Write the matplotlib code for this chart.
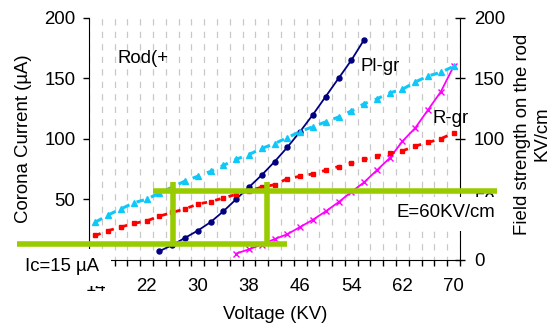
import numpy as np
import matplotlib
matplotlib.use('Agg')
import matplotlib.pyplot as plt
from matplotlib.patches import Rectangle

plt.rcParams['font.family'] = ['Liberation Sans', 'DejaVu Sans']
plt.rcParams['font.size'] = 13.4

# voltage categories (KV)
volts = [14, 16, 18, 20, 22, 24, 26, 28, 30, 32, 34, 36, 38, 40, 42,
         44, 46, 48, 50, 52, 54, 56, 58, 60, 62, 64, 66, 68, 70]
xlabels = [14, 22, 30, 38, 46, 54, 62, 70]

# field strength on the rod (KV/cm)
field_a = [31, 37, 42, 47, 50, 55, 60, 65, 69, 73, 78, 83, 87, 92, 96,
           101, 106, 110, 114, 118, 123, 129, 133, 138, 141, 147, 152, 155, 160]
field_b = [20, 24, 27, 30, 32, 36, 39, 42, 46, 48, 51, 54, 57, 60, 62,
           67, 69, 71, 74, 77, 80, 83, 86, 88, 90, 94, 97, 100, 105]

# corona current (uA)
volts_pl = volts[5:22]
cur_pl = [7, 12, 18, 24, 31, 40, 50, 60, 70, 81, 93, 106, 120, 135, 150, 165, 182]
volts_r = volts[11:]
cur_r = [5, 8.5, 12.5, 17, 21, 27, 33, 40, 47.5, 56, 64, 74, 84, 98, 109, 124, 139, 160]

# guide lines
ic_level = 12.9
ic_span = [1.75, 43.9]
e_level = 57.1
e_span = [23.05, 76.8]
v_marks = [26.07, 40.76]
v_top = 64.1

green = '#99CC00'
gridc = '#C8C8C8'

fig = plt.figure(figsize=(5.6, 3.29), dpi=100)
ax = fig.add_axes([0.159, 0.2109, 0.6625, 0.7344])
ax2 = ax.twinx()

ax.plot(volts_pl, cur_pl, color='#000080', lw=1.3, marker='o', ms=3.6, zorder=3)
ax.plot(volts_r, cur_r, color='#FF00FF', lw=1.3, marker='x', ms=4.5, mew=1, zorder=3)
ax2.plot(volts, field_a, color='#10C8F8', lw=2.2, ls=(0, (2.5, 2.5)), marker='^', ms=4.5)
ax2.plot(volts, field_b, color='#FF0000', lw=2, ls=(0, (2, 3)), marker='s', ms=3)

for a in (ax, ax2):
    a.set_xlim(13, 71)
    a.set_ylim(0, 200)
    a.set_yticks([0, 50, 100, 150, 200])
    a.spines['top'].set_visible(False)

ax.spines['right'].set_visible(False)
ax2.spines['left'].set_visible(False)
ax2.spines['bottom'].set_visible(False)

ax.set_xticks(xlabels)
ax.set_xticks(np.arange(13, 72, 2), minor=True)
ax.tick_params(axis='x', which='major', length=0, pad=13)
ax.tick_params(axis='x', which='minor', length=4, width=1, direction='out')
ax.tick_params(axis='y', length=4.3, width=1, direction='out', pad=5.5)
ax2.tick_params(axis='y', length=7, width=1, direction='inout', pad=6.5)

ax.grid(True, axis='y', which='major', color=gridc, lw=0.9, ls=(0, (7, 4)))
ax.grid(True, axis='x', which='minor', color=gridc, lw=0.9, ls=(2, (5, 5)))
for t in ax.yaxis.get_major_ticks():
    if t.get_loc() in (0, 200):
        t.gridline.set_visible(False)

ax.set_xlabel('Voltage (KV)')
ax.xaxis.set_label_coords(0.501, -0.19)
ax.set_ylabel('Corona Current (µA)')
ax.yaxis.label.set(va='center', ha='center')
ax.yaxis.set_label_coords(-0.178, 0.501)
ax2.set_ylabel('Field strength on the rod\nKV/cm', multialignment='center')
ax2.yaxis.label.set(va='center', ha='center')
ax2.yaxis.set_label_coords(1.194, 0.52)

# green guide lines
ax2.plot(ic_span, [ic_level, ic_level], color=green, lw=4, solid_capstyle='butt', clip_on=False, zorder=6)
ax2.plot(e_span, [e_level, e_level], color=green, lw=4, solid_capstyle='butt', clip_on=False, zorder=6)
for v in v_marks:
    ax2.plot([v, v], [ic_level, v_top], color=green, lw=4, solid_capstyle='butt', clip_on=False, zorder=6)

# labels
ax2.text(17.4, 166.7, 'Rod(+', va='center', ha='left')
ax2.text(55.45, 159.7, 'Pl-gr', va='center', ha='left')
ax2.text(66.7, 117.2, 'R-gr', va='center', ha='left')

ax2.add_patch(Rectangle((-0.199, -0.109), 0.258, 0.153, transform=ax2.transAxes,
                        facecolor='white', edgecolor='none', clip_on=False, zorder=5))
ax2.text(3, -5.5, 'Ic=15 µA', va='center', ha='left', clip_on=False, zorder=7)

ax2.add_patch(Rectangle((0.817, 0.118), 0.296, 0.141, transform=ax2.transAxes,
                        facecolor='white', edgecolor='none', clip_on=False, zorder=5))
ax2.text(61.1, 38.6, 'E=60KV/cm', va='center', ha='left', clip_on=False, zorder=7)

fig.savefig('out.png', dpi=100)
